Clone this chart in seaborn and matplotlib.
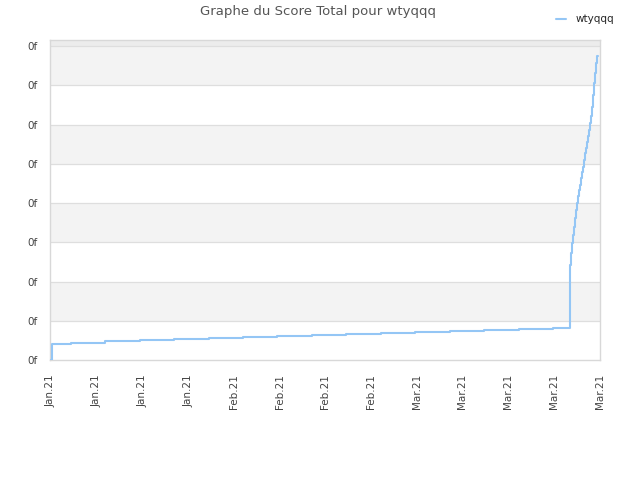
import numpy
import pandas
import seaborn as sns
import matplotlib.pyplot as plt
import matplotlib.dates as mdates


# Score history, day of year 2021 (fractional) and score value.
step_days = [
    5.0, 5.15, 8.12, 13.26, 18.62, 23.82, 29.17, 34.38, 39.65, 44.93,
    50.13, 55.49, 60.69, 66.05, 71.25, 76.6, 81.8, 84.48,
    84.66, 84.76, 84.91, 85.06, 85.22, 85.37, 85.52, 85.68, 85.83, 85.98,
    86.13, 86.29, 86.44, 86.59, 86.75, 86.9, 87.05, 87.21, 87.36, 87.51,
    87.66, 87.77, 87.91, 88.08, 88.23, 88.38, 88.54, 88.69,
]
scores = [
    0.0, 0.420, 0.446, 0.472, 0.498, 0.524, 0.550, 0.576, 0.602, 0.628,
    0.654, 0.680, 0.706, 0.732, 0.758, 0.784, 0.810, 2.42,
    2.72, 2.98, 3.19, 3.40, 3.61, 3.83, 4.00, 4.17, 4.34, 4.46,
    4.63, 4.80, 4.93, 5.10, 5.27, 5.40, 5.57, 5.70, 5.87, 6.04,
    6.21, 6.46, 6.76, 7.06, 7.31, 7.57, 7.76, 7.76,
]
tick_days = [5, 12, 19, 26, 33, 40, 47, 54, 61, 68, 75, 82, 89]
y_ticks = [0, 1, 2, 3, 4, 5, 6, 7, 8]
player = 'wtyqqq'

base = pandas.Timestamp('2021-01-01')
df = pandas.DataFrame({
    'date': [base + pandas.to_timedelta(d - 1, unit = 'D') for d in step_days],
    'score': scores,
})

sns.set_theme(style = 'white')
plt.rcParams['font.family'] = ['DejaVu Sans']

fig = plt.figure(figsize = (6.4, 4.8), dpi = 100)
ax = fig.add_axes([50 / 640, 1 - 360 / 480, 550 / 640, 320 / 480])

# Alternating background bands.
for lo in y_ticks[:-1]:
    if lo % 2 == 1:
        ax.axhspan(lo, lo + 1, color = '#f3f3f3', lw = 0, zorder = 0)
ax.axhspan(8, 8.2, color = '#ececec', lw = 0, zorder = 0)
for y in y_ticks[1:]:
    ax.axhline(y, color = '#dedede', lw = 0.9, zorder = 1)

sns.lineplot(
    data = df, x = 'date', y = 'score', ax = ax,
    drawstyle = 'steps-post', color = '#94c6f5', lw = 1.5,
    label = player, legend = False, zorder = 3
)

ax.set_ylim(0, 8.16)
ax.set_yticks(y_ticks)
ax.set_yticklabels(['0f'] * len(y_ticks))

x_left = base + pandas.to_timedelta(4.85 - 1, unit = 'D')
x_right = base + pandas.to_timedelta(89.05 - 1, unit = 'D')
ax.set_xlim(x_left, x_right)
ax.set_xticks([base + pandas.to_timedelta(d - 1, unit = 'D') for d in tick_days])
ax.xaxis.set_major_formatter(mdates.DateFormatter('%b.%y'))
plt.setp(ax.get_xticklabels(), rotation = 90)

ax.tick_params(axis = 'both', length = 0, labelsize = 7.5, colors = '#444444')
ax.tick_params(axis = 'x', pad = 10)
ax.tick_params(axis = 'y', pad = 9)
ax.set_xlabel(None)
ax.set_ylabel(None)
for spine in ax.spines.values():
    spine.set_color('#d8d8d8')
    spine.set_linewidth(1)

fig.suptitle('Graphe du Score Total pour ' + player, x = 318 / 640, y = 1 - 5 / 480,
             fontsize = 9.5, color = '#555555', va = 'top')
fig.legend(loc = 'upper right', bbox_to_anchor = (0.975, 0.99), frameon = False,
           fontsize = 7.5, handlelength = 0.9, handletextpad = 1.0)

plt.savefig('out.png', dpi = 100)
